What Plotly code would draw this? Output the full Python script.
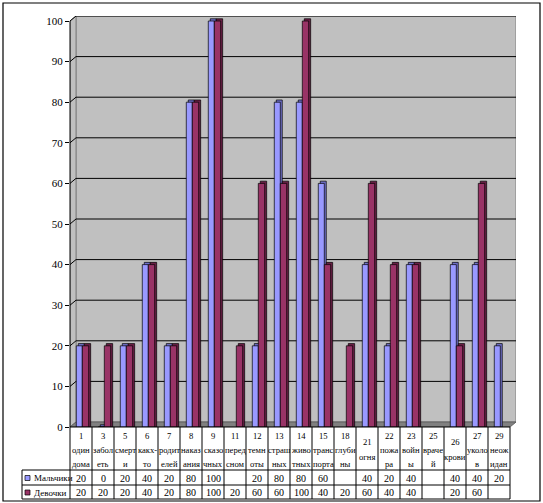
import plotly.graph_objects as go

# ---------------- data ----------------
categories = ["1\nодин\nдома", "3\nзабол\nеть", "5\nсмерт\nи", "6\nкакх-\nто", "7\nродит\nелей",
              "8\nнаказ\nания", "9\nсказо\nчных", "11\nперед\nсном", "12\nтемн\nоты", "13\nстраш\nных",
              "14\nживо\nтных", "15\nтранс\nпорта", "18\nглуби\nны", "21\nогня", "22\nпожа\nра",
              "23\nвойн\nы", "25\nвраче\nй", "26\nкрови", "27\nуколо\nв", "29\nнеож\nидан"]
boys = [20, 0, 20, 40, 20, 80, 100, None, 20, 80, 80, 60, None, 40, 20, 40, None, 40, 40, 20]
girls = [20, 20, 20, 40, 20, 80, 100, 20, 60, 60, 100, 40, 20, 60, 40, 40, None, 20, 60, None]
series_names = ["Мальчики", "Девочки"]
y_ticks = [0, 10, 20, 30, 40, 50, 60, 70, 80, 90, 100]

# ---------------- geometry / style ----------------
W, H = 543, 503
L, R, T, B = 70, 516, 16, 427          # plot area in px
CELL = 22.0                              # px per category
PXY = 4.06                               # px per value unit
XMIN = -0.5
XMAX = XMIN + (R - L) / CELL
YMAX = (B - T) / PXY
DX = 6 / CELL                            # depth offset (x units)
DY = 5 / PXY                             # depth offset (y units)
N = len(categories)
FONT = "Liberation Serif, Times New Roman, serif"

front_cols = ["#9999FF", "#993366"]
side_cols = ["#6F6FC8", "#6A1F46"]
offsets = [-0.214, 0.059]
widths = [0.273, 0.29]


def pxp(px):
    return (px - L) / (R - L)


def pyp(py):
    return (B - py) / (B - T)


def dx2p(x):
    return (x - XMIN) / (XMAX - XMIN)


def dy2p(y):
    return y / YMAX


fig = go.Figure()
xs = list(range(N))
for k, vals in enumerate([boys, girls]):
    shadow = [None if v is None else v + 0.55 for v in vals]
    fig.add_trace(go.Bar(x=xs, y=shadow, offset=offsets[k] + 0.09, width=widths[k],
                         marker=dict(color=side_cols[k], line=dict(color="black", width=0.7)),
                         hoverinfo="skip", showlegend=False))
    fig.add_trace(go.Bar(x=xs, y=vals, offset=offsets[k], width=widths[k], name=series_names[k],
                         marker=dict(color=front_cols[k], line=dict(color="black", width=0.7)),
                         showlegend=False))

shapes = []
# back wall
shapes.append(dict(type="rect", xref="x", yref="y", x0=XMIN + DX, x1=XMAX, y0=DY, y1=YMAX,
                   fillcolor="#C0C0C0", line=dict(color="#808080", width=1), layer="below"))
# left wall
shapes.append(dict(type="path", xref="x", yref="y",
                   path=f"M {XMIN},0 L {XMIN+DX},{DY} L {XMIN+DX},{YMAX} L {XMIN},{100} Z",
                   fillcolor="#C0C0C0", line=dict(color="#808080", width=1), layer="below"))
# floor
x_front_end = XMIN + N
shapes.append(dict(type="path", xref="x", yref="y",
                   path=f"M {XMIN},0 L {x_front_end},0 L {x_front_end+DX},{DY} L {XMIN+DX},{DY} Z",
                   fillcolor="#808080", line=dict(color="#606060", width=1), layer="below"))
# gridlines
for v in y_ticks[1:]:
    shapes.append(dict(type="line", xref="x", yref="y", x0=XMIN + DX, x1=XMAX, y0=v + DY, y1=v + DY,
                       line=dict(color="black", width=1), layer="below"))
    shapes.append(dict(type="line", xref="x", yref="y", x0=XMIN, x1=XMIN + DX, y0=v, y1=v + DY,
                       line=dict(color="black", width=1), layer="below"))
# y axis line (front plane)
shapes.append(dict(type="line", xref="paper", yref="paper", x0=0, x1=0, y0=0, y1=dy2p(100),
                   line=dict(color="black", width=1)))

# ---------------- data table ----------------
ROW1, ROW2, ROW3 = 470, 485, 499
TL = 22
line_k = dict(color="black", width=1)
shapes.append(dict(type="line", xref="paper", yref="paper", x0=dx2p(XMIN), x1=dx2p(XMIN + N),
                   y0=pyp(B), y1=pyp(B), line=line_k))
for py in (ROW1, ROW2, ROW3):
    shapes.append(dict(type="line", xref="paper", yref="paper", x0=pxp(TL), x1=dx2p(XMIN + N),
                       y0=pyp(py), y1=pyp(py), line=line_k))
shapes.append(dict(type="line", xref="paper", yref="paper", x0=pxp(TL), x1=pxp(TL),
                   y0=pyp(ROW1), y1=pyp(ROW3), line=line_k))
for i in range(N + 1):
    xp = dx2p(XMIN + i)
    shapes.append(dict(type="line", xref="paper", yref="paper", x0=xp, x1=xp,
                       y0=pyp(B), y1=pyp(ROW3), line=line_k))
# outer border
shapes.append(dict(type="rect", xref="paper", yref="paper", x0=pxp(3), x1=pxp(540),
                   y0=pyp(501), y1=pyp(3), line=dict(color="black", width=1.2)))

annotations = []
for i, lab in enumerate(categories):
    parts = lab.split("\n")
    n = len(parts)
    center = (B + ROW1) / 2 + 1
    for j, p in enumerate(parts):
        py = center + (j - (n - 1) / 2) * 14
        annotations.append(dict(x=i, y=pyp(py), xref="x", yref="paper", text=p, showarrow=False,
                                font=dict(family=FONT, size=8.6, color="black"),
                                xanchor="center", yanchor="middle"))
for k, (vals, rtop, rbot) in enumerate([(boys, ROW1, ROW2), (girls, ROW2, ROW3)]):
    yc = pyp((rtop + rbot) / 2 + 0.5)
    for i, v in enumerate(vals):
        if v is not None:
            annotations.append(dict(x=i, y=yc, xref="x", yref="paper", text=str(v), showarrow=False,
                                    font=dict(family=FONT, size=10, color="black"),
                                    xanchor="center", yanchor="middle"))
    # legend key
    shapes.append(dict(type="rect", xref="paper", yref="paper", x0=pxp(25), x1=pxp(30),
                       y0=yc - 2.5 / (B - T), y1=yc + 2.5 / (B - T),
                       fillcolor=front_cols[k], line=dict(color="black", width=0.7)))
    annotations.append(dict(x=pxp(32), y=yc, xref="paper", yref="paper", text=series_names[k],
                            showarrow=False, font=dict(family=FONT, size=9, color="black"),
                            xanchor="left", yanchor="middle"))

fig.update_layout(
    width=W, height=H,
    margin=dict(l=L, r=W - R, t=T, b=H - B, pad=0),
    paper_bgcolor="white", plot_bgcolor="white",
    barmode="overlay", showlegend=False,
    shapes=shapes, annotations=annotations,
    xaxis=dict(range=[XMIN, XMAX], showgrid=False, zeroline=False, showticklabels=False,
               showline=False, ticks=""),
    yaxis=dict(range=[0, YMAX], tickvals=y_ticks, showgrid=False, zeroline=False, showline=False,
               ticks="outside", ticklen=4, tickcolor="black", tickwidth=1,
               tickfont=dict(family=FONT, size=11, color="black")),
)

fig.write_html("out.html", config={"displayModeBar": False},
               post_script="document.body.style.margin='0';document.body.style.overflow='hidden';")
